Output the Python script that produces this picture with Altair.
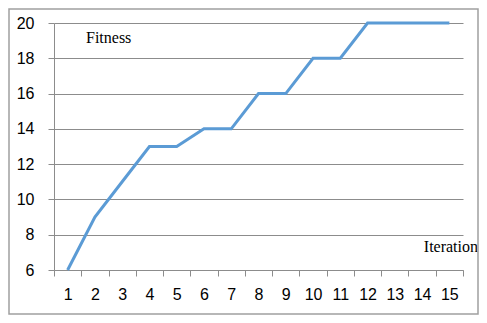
import altair as alt
import pandas as pd

iterations = list(range(1, 16))
fitness = [6, 9, 11, 13, 13, 14, 14, 16, 16, 18, 18, 20, 20, 20, 20]
y_ticks = [6, 8, 10, 12, 14, 16, 18, 20]

df = pd.DataFrame({"Iteration": iterations, "Fitness": fitness})

GRID = "#8c8c8c"

line = alt.Chart(df).mark_line(color="#5b9bd5", strokeWidth=3).encode(
    x=alt.X(
        "Iteration:O",
        scale=alt.Scale(type="band", paddingInner=0, paddingOuter=0),
        bandPosition=0.5,
        axis=alt.Axis(
            title=None, labelAngle=0, grid=False, tickBand="extent",
            domainColor=GRID, tickColor=GRID, tickSize=6,
            labelFont="Liberation Sans", labelFontSize=16, labelColor="#000000",
            labelPadding=10,
        ),
    ),
    y=alt.Y(
        "Fitness:Q",
        scale=alt.Scale(domain=[6, 20], nice=False, zero=False),
        axis=alt.Axis(
            title=None, values=y_ticks, grid=True, gridColor=GRID,
            domainColor=GRID, tickColor=GRID, tickSize=6,
            labelFont="Liberation Sans", labelFontSize=16, labelColor="#000000",
            labelPadding=14,
        ),
    ),
)

fit_label = alt.Chart(pd.DataFrame({"t": ["Fitness"]})).mark_text(
    font="Liberation Serif", fontSize=16, align="left", baseline="alphabetic", color="#000000"
).encode(text="t:N", x=alt.value(32), y=alt.value(20))

it_label = alt.Chart(pd.DataFrame({"t": ["Iteration"]})).mark_text(
    font="Liberation Serif", fontSize=16, align="right", baseline="alphabetic", color="#000000"
).encode(text="t:N", x=alt.value(424), y=alt.value(229))

border = alt.Chart(pd.DataFrame({"a": [0]})).mark_rect(
    fill=None, stroke="#a0a0a0", strokeWidth=1.5
).encode(x=alt.value(-45), x2=alt.value(424), y=alt.value(-14), y2=alt.value(291))

chart = alt.layer(line, fit_label, it_label, border).properties(
    width=409, height=247,
    autosize=alt.AutoSizeParams(type="none"),
    padding={"left": 46, "top": 15, "right": 16, "bottom": 45},
).configure_view(stroke=None)

chart.save("out.html", embed_options={"renderer": "svg", "actions": False})
